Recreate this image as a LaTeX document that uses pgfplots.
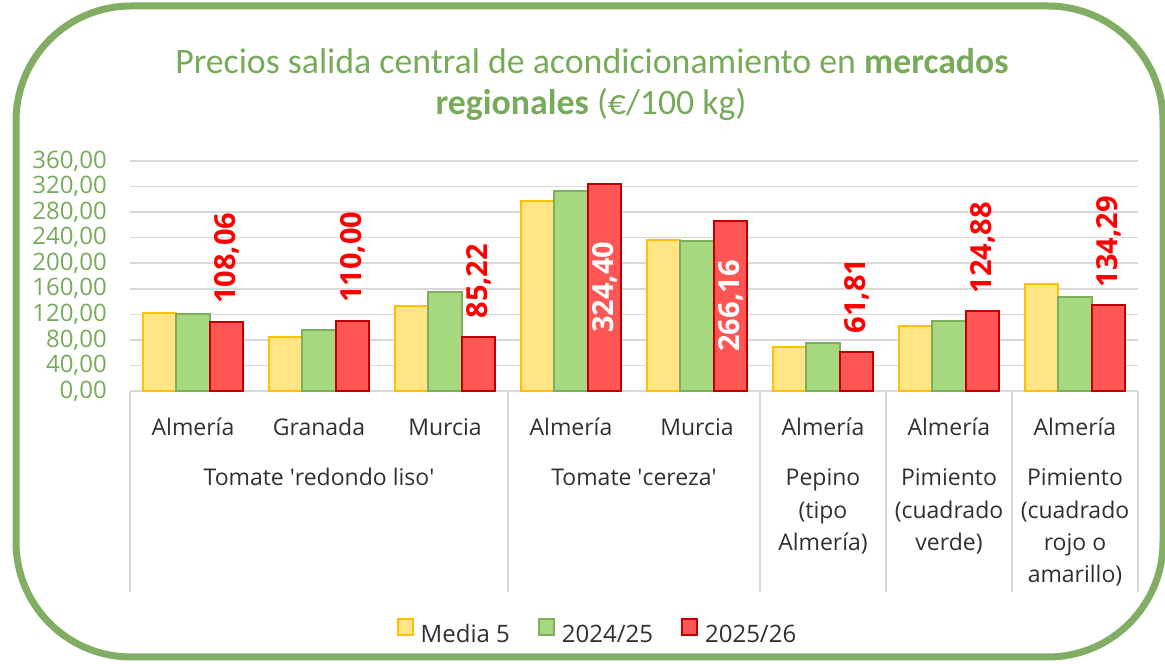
\documentclass[border=0pt]{standalone}
\usepackage{fontspec}
\setmainfont{Open Sans}
\newfontfamily\titlefont{Carlito}
\usepackage{pgfplots}
\pgfplotsset{compat=1.18}
\definecolor{ttl}{HTML}{77AB59}
\definecolor{brd}{HTML}{82AD64}
\definecolor{yfill}{HTML}{FFE583}
\definecolor{yedge}{HTML}{FFC000}
\definecolor{gfill}{HTML}{A6D97F}
\definecolor{gedge}{HTML}{7DAF5C}
\definecolor{rfill}{HTML}{FF5555}
\definecolor{redge}{HTML}{C00000}
\definecolor{gridc}{HTML}{D9D9D9}
\definecolor{txt}{HTML}{303030}
\newcommand{\lf}{\fontsize{23}{23}\selectfont}
\begin{document}
\begin{tikzpicture}[x=1pt,y=1pt]
\clip (0,0) rectangle (1165,664);
\draw[brd, line width=7pt, rounded corners=115pt] (16,7) rectangle (1163,658);
\node[anchor=base, font=\titlefont\fontsize{35.8}{35.8}\selectfont, text=ttl, inner sep=0pt] at (592,590) {Precios salida central de acondicionamiento en \textbf{mercados}};
\node[anchor=base, font=\titlefont\fontsize{35.8}{35.8}\selectfont, text=ttl, inner sep=0pt] at (591,549) {\textbf{regionales} (€/100 kg)};
\begin{axis}[
  at={(130pt,273pt)}, anchor=south west, scale only axis,
  width=1008pt, height=230pt,
  xmin=-0.5, xmax=7.5, ymin=0, ymax=360,
  ytick={0,40,...,360}, xtick={0,...,7},
  xticklabels={Almería,Granada,Murcia,Almería,Murcia,Almería,Almería,Almería},
  axis line style={draw=none}, major tick length=0pt,
  ymajorgrids, grid style={gridc, line width=1.6pt},
  clip=false,
  yticklabel={\pgfmathprintnumber[fixed,fixed zerofill,precision=2,use comma,assume math mode=true]{\tick}},
  yticklabel style={font=\fontsize{24}{24}\selectfont, text=ttl, anchor=east, inner sep=0pt, xshift=-23pt},
  xticklabel style={font=\lf, text=txt, anchor=base, inner sep=0pt, yshift=-44pt},
  legend columns=3,
  legend style={draw=none, fill=none, at={(0.4628,-1.0435)}, anchor=center, font=\fontsize{24}{24}\selectfont, text=txt,
    nodes={inner sep=0pt},
    /tikz/every odd column/.style={column sep=7pt},
    /tikz/every even column/.style={column sep=28pt}},
  legend image code/.code={\draw[#1, line width=2pt] (0pt,0pt) rectangle (15pt,16pt);},
]
\addplot[ybar, bar width=33.5pt, bar shift=-33.5pt, fill=yfill, draw=yedge, line width=2pt]
  coordinates {(0,122.5) (1,85) (2,133) (3,297) (4,237) (5,69.5) (6,101) (7,167)};
\addplot[ybar, bar width=33.5pt, bar shift=0pt, fill=gfill, draw=gedge, line width=2pt]
  coordinates {(0,120) (1,95.5) (2,155.5) (3,313) (4,234.5) (5,75) (6,110) (7,147.5)};
\addplot[ybar, bar width=33.5pt, bar shift=33.5pt, fill=rfill, draw=redge, line width=2pt,
  nodes near coords={\pgfmathprintnumber[fixed,fixed zerofill,precision=2,use comma,assume math mode=true]{\pgfplotspointmeta}},
  every node near coord/.append style={font=\bfseries\fontsize{29}{29}\selectfont, text=red, inner sep=0pt, xshift=33.5pt, yshift=17pt, rotate=90, anchor=west}]
  coordinates {(0,108.06) (1,110.00) (2,85.22) (5,61.81) (6,124.88) (7,134.29)};
\addplot[ybar, forget plot, bar width=33.5pt, bar shift=33.5pt, fill=rfill, draw=redge, line width=2pt,
  visualization depends on={rawy \as \ry},
  nodes near coords={\pgfmathprintnumber[fixed,fixed zerofill,precision=2,use comma,assume math mode=true]{\pgfplotspointmeta}},
  every node near coord/.append style={font=\bfseries\fontsize{29}{29}\selectfont, text=white, inner sep=0pt, xshift=33.5pt, yshift=-\ry*0.319444pt, rotate=90, anchor=center}]
  coordinates {(3,324.40) (4,266.16)};
\legend{Media 5, 2024/25, 2025/26}
\draw[gridc, line width=1.6pt] (axis cs:-0.5,0) -- ([yshift=-201pt]axis cs:-0.5,0);
\draw[gridc, line width=1.6pt] (axis cs:2.5,0) -- ([yshift=-201pt]axis cs:2.5,0);
\draw[gridc, line width=1.6pt] (axis cs:4.5,0) -- ([yshift=-201pt]axis cs:4.5,0);
\draw[gridc, line width=1.6pt] (axis cs:5.5,0) -- ([yshift=-201pt]axis cs:5.5,0);
\draw[gridc, line width=1.6pt] (axis cs:6.5,0) -- ([yshift=-201pt]axis cs:6.5,0);
\draw[gridc, line width=1.6pt] (axis cs:7.5,0) -- ([yshift=-201pt]axis cs:7.5,0);
\end{axis}
\begin{scope}[every node/.style={anchor=base, font=\lf, text=txt, inner sep=0pt}]
\node at (319,178) {Tomate \textquotesingle redondo liso\textquotesingle};
\node at (634,178) {Tomate \textquotesingle cereza\textquotesingle};
\node at (823,178) {Pepino};
\node at (823,145.7) {(tipo};
\node at (823,113.4) {Almería)};
\node at (949,178) {Pimiento};
\node at (949,145.7) {(cuadrado};
\node at (949,113.4) {verde)};
\node at (1075,178) {Pimiento};
\node at (1075,145.7) {(cuadrado};
\node at (1075,113.4) {rojo o};
\node at (1075,81.1) {amarillo)};
\end{scope}
\end{tikzpicture}
\end{document}
